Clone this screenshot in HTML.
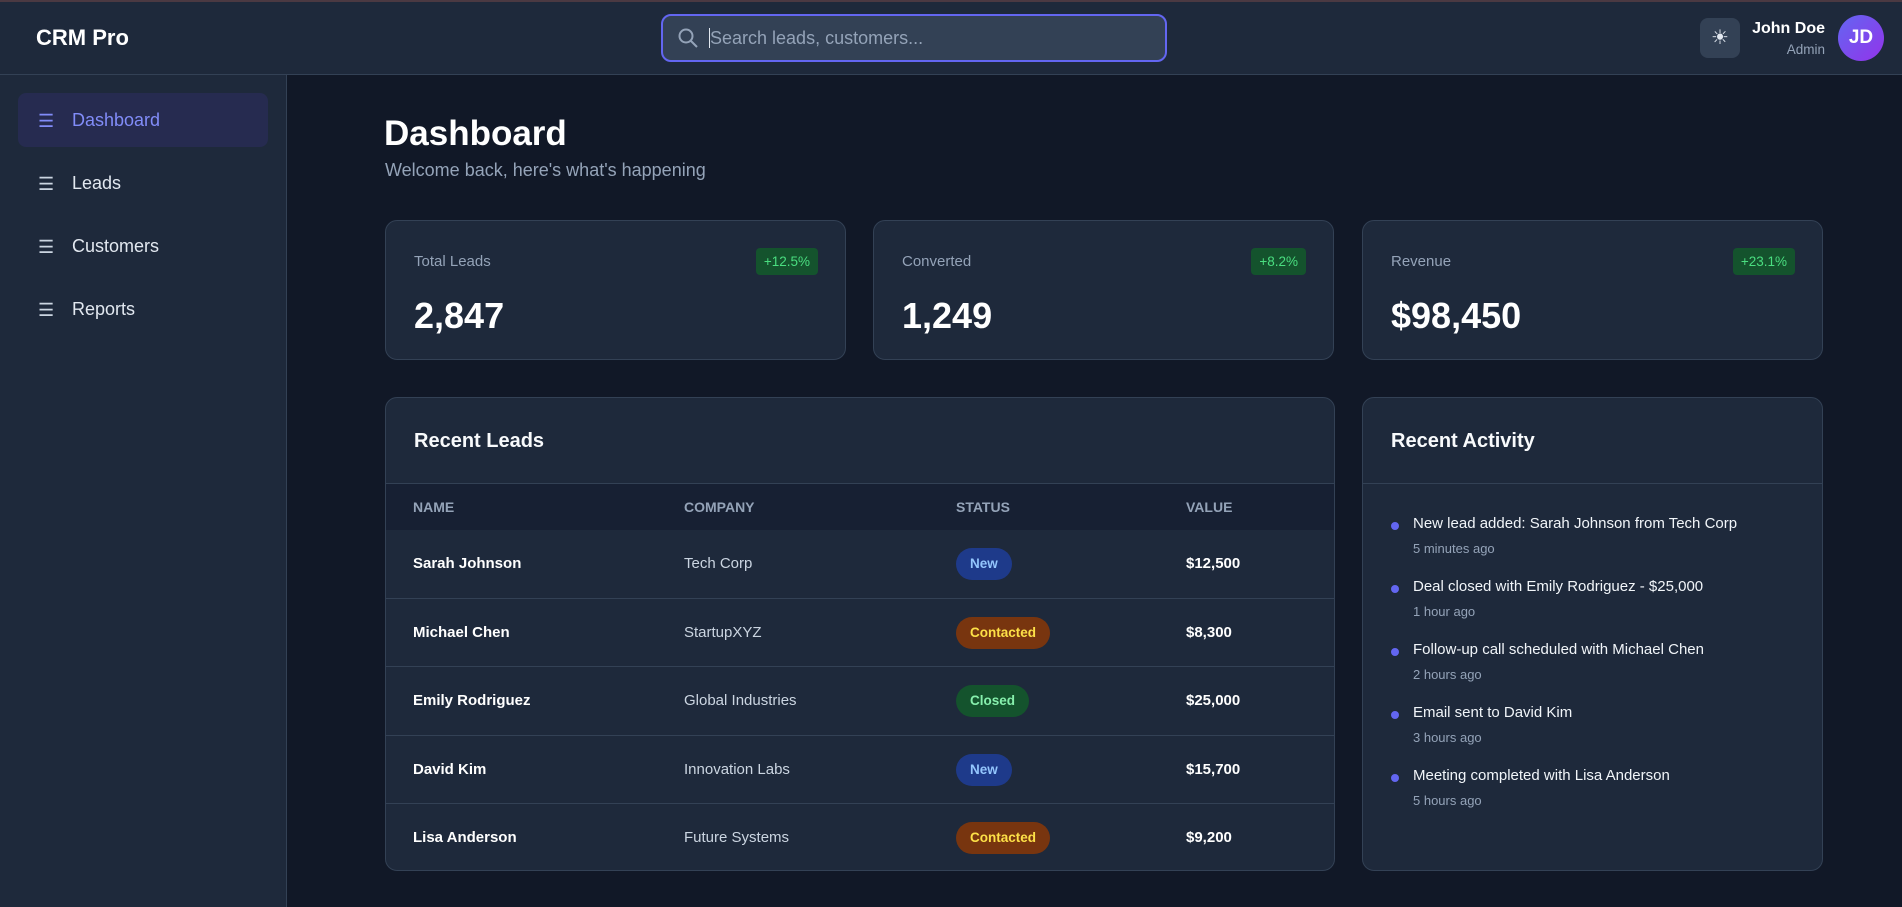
<!DOCTYPE html>
<html><head><meta charset="utf-8"><style>
*{box-sizing:border-box;margin:0;padding:0}
body{width:1902px;height:907px;overflow:hidden;background:#111827;font-family:"Liberation Sans",sans-serif;color:#f1f5f9;position:relative}
.abs{position:absolute}
#top{left:0;top:0;width:1902px;height:2px;background:#4b3942}
#hdr{left:0;top:2px;width:1902px;height:73px;background:#1e293b;border-bottom:1px solid #334155}
#side{left:0;top:75px;width:287px;height:832px;background:#1e293b;border-right:1px solid #334155}
.logo{left:36px;top:25px;font-size:22px;font-weight:bold;color:#fff}
.search{left:661px;top:14px;width:506px;height:48px;border:2px solid #6366f1;border-radius:10px;background:#334155}
.search span{position:absolute;left:46px;top:12px;font-size:18px;color:#94a3b8}
.theme{left:1700px;top:18px;width:40px;height:40px;border-radius:8px;background:#334155;color:#e2e8f0;font-size:20px;text-align:center;line-height:40px}
.nav{left:18px;width:250px;height:54px;border-radius:8px;font-size:18px;color:#e2e8f0}
.nav i{position:absolute;left:20px;top:18px;font-style:normal;font-size:18px;color:#cbd5e1}
.nav b{position:absolute;left:54px;top:17px;font-weight:normal}
.nav.on{background:#262b50;color:#818cf8}
.nav.on i{color:#818cf8}
.card{background:#1e293b;border:1px solid #334155;border-radius:12px}
.lbl{position:absolute;left:28px;top:32px;font-size:15px;color:#94a3b8}
.bdg{position:absolute;right:27px;top:27px;height:27px;padding:0 8px;line-height:27px;border-radius:4px;background:#14532d;color:#4ade80;font-size:13.5px}
.val{position:absolute;left:28px;top:74px;font-size:36px;font-weight:bold;color:#fff}
.ch{position:absolute;left:28px;top:32px;font-size:20px;font-weight:bold;color:#f8fafc}
.hl{position:absolute;left:0;right:0;top:85px;border-top:1px solid #334155}
.th{position:absolute;top:86px;left:0;right:0;height:46px;background:#172033}
.th span{position:absolute;top:15px;font-size:14px;color:#94a3b8;font-weight:bold}
.row{position:absolute;left:0;right:0;height:68px;border-top:1px solid #334155}
.row span{position:absolute;top:25px;font-size:15px}
.c1{left:27px;font-weight:bold;color:#fff}.c2{left:298px;color:#cbd5e1}.c4{left:800px;font-weight:bold;color:#fff}
.pill{position:absolute;left:570px;top:18px;height:32px;line-height:32px;padding:0 14px;border-radius:16px;font-size:13.5px;font-weight:bold}
.new{background:#1e3a8a;color:#93c5fd}.con{background:#78350f;color:#fde047}.clo{background:#14532d;color:#86efac}
.it{position:absolute;left:28px}
.it .d{position:absolute;left:0;top:8px;width:8px;height:8px;border-radius:50%;background:#6366f1}
.it .t{position:absolute;left:22px;top:1px;font-size:15px;color:#f1f5f9;white-space:nowrap}
.it .s{position:absolute;left:22px;top:27px;font-size:13px;color:#94a3b8;white-space:nowrap}
</style></head><body>
<div class="abs" id="hdr"></div><div class="abs" id="top"></div>
<div class="abs logo">CRM Pro</div>
<div class="abs search"><svg class="abs" style="left:14px;top:11px" width="22" height="22" viewBox="0 0 22 22"><circle cx="9" cy="9" r="6.5" fill="none" stroke="#94a3b8" stroke-width="2"/><line x1="14" y1="14" x2="20" y2="20" stroke="#94a3b8" stroke-width="2"/></svg><span><span style="position:static;border-left:1px solid #e2e8f0"></span>Search leads, customers...</span></div>
<div class="abs theme">☀</div>
<div class="abs" style="right:77px;top:20px;font-size:16px;font-weight:bold;color:#fff;text-align:right">John Doe</div>
<div class="abs" style="right:77px;top:42px;font-size:13.5px;color:#94a3b8;text-align:right">Admin</div>
<div class="abs" style="left:1838px;top:15px;width:46px;height:46px;border-radius:50%;background:linear-gradient(135deg,#6366f1,#9333ea);color:#fff;font-weight:bold;font-size:19px;text-align:center;line-height:46px">JD</div>
<div class="abs" id="side"></div>
<div class="abs nav on" style="top:93px"><i>☰</i><b>Dashboard</b></div>
<div class="abs nav" style="top:156px"><i>☰</i><b>Leads</b></div>
<div class="abs nav" style="top:219px"><i>☰</i><b>Customers</b></div>
<div class="abs nav" style="top:282px"><i>☰</i><b>Reports</b></div>
<div class="abs" style="left:384px;top:114px;font-size:35px;font-weight:bold;color:#fff">Dashboard</div>
<div class="abs" style="left:385px;top:160px;font-size:18px;color:#94a3b8">Welcome back, here's what's happening</div>
<div class="abs card" style="left:385px;top:220px;width:461px;height:140px"><span class="lbl">Total Leads</span><span class="bdg">+12.5%</span><span class="val">2,847</span></div>
<div class="abs card" style="left:873px;top:220px;width:461px;height:140px"><span class="lbl">Converted</span><span class="bdg">+8.2%</span><span class="val">1,249</span></div>
<div class="abs card" style="left:1362px;top:220px;width:461px;height:140px"><span class="lbl">Revenue</span><span class="bdg">+23.1%</span><span class="val">$98,450</span></div>
<div class="abs card" style="left:385px;top:397px;width:950px;height:474px;overflow:hidden">
<span class="ch">Recent Leads</span><div class="hl"></div>
<div class="th"><span style="left:27px">NAME</span><span style="left:298px">COMPANY</span><span style="left:570px">STATUS</span><span style="left:800px">VALUE</span></div>
<div class="row" style="top:132px;border-top:none"><span class="c1">Sarah Johnson</span><span class="c2">Tech Corp</span><b class="pill new">New</b><span class="c4">$12,500</span></div>
<div class="row" style="top:200px"><span class="c1">Michael Chen</span><span class="c2">StartupXYZ</span><b class="pill con">Contacted</b><span class="c4">$8,300</span></div>
<div class="row" style="top:268px"><span class="c1">Emily Rodriguez</span><span class="c2">Global Industries</span><b class="pill clo">Closed</b><span class="c4">$25,000</span></div>
<div class="row" style="top:337px"><span class="c1">David Kim</span><span class="c2">Innovation Labs</span><b class="pill new">New</b><span class="c4">$15,700</span></div>
<div class="row" style="top:405px"><span class="c1">Lisa Anderson</span><span class="c2">Future Systems</span><b class="pill con">Contacted</b><span class="c4">$9,200</span></div>
</div>
<div class="abs card" style="left:1362px;top:397px;width:461px;height:474px">
<span class="ch">Recent Activity</span><div class="hl"></div>
<div class="it" style="top:116px"><span class="d"></span><span class="t">New lead added: Sarah Johnson from Tech Corp</span><span class="s">5 minutes ago</span></div>
<div class="it" style="top:179px"><span class="d"></span><span class="t">Deal closed with Emily Rodriguez - $25,000</span><span class="s">1 hour ago</span></div>
<div class="it" style="top:242px"><span class="d"></span><span class="t">Follow-up call scheduled with Michael Chen</span><span class="s">2 hours ago</span></div>
<div class="it" style="top:305px"><span class="d"></span><span class="t">Email sent to David Kim</span><span class="s">3 hours ago</span></div>
<div class="it" style="top:368px"><span class="d"></span><span class="t">Meeting completed with Lisa Anderson</span><span class="s">5 hours ago</span></div>
</div>
</body></html>
